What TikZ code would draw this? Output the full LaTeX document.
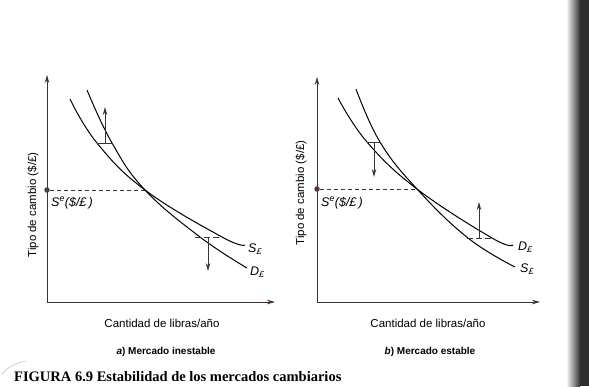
\documentclass[tikz,border=0pt]{standalone}
\usepackage{fontspec}
\setmainfont{Liberation Sans}
\newfontfamily\capfont{Liberation Serif}
\usetikzlibrary{arrows.meta}
\definecolor{axiscol}{RGB}{60,50,48}
\definecolor{dotcol}{RGB}{80,62,55}
\begin{document}
\begin{tikzpicture}[x=1pt,y=-1pt,
  axis/.style={draw=axiscol, line width=0.8pt, {Stealth[length=8pt,width=4.5pt]}-{Stealth[length=8pt,width=4.5pt]}},
  curve/.style={line width=1pt, black},
  guide/.style={dash pattern=on 4pt off 3pt, line width=0.7pt, draw=axiscol},
  bar/.style={line width=0.8pt, draw=axiscol},
  dbar/.style={line width=0.8pt, draw=axiscol, dash pattern=on 6pt off 3pt},
  move/.style={line width=1pt, draw=axiscol, -{Stealth[length=8pt,width=4.5pt]}},
  dot/.style={circle, fill=dotcol, inner sep=0pt, minimum size=5.5pt},
  lbl/.style={font=\fontsize{11.5}{13}\selectfont, inner sep=0pt},
  clbl/.style={font=\fontsize{12.5}{14}\selectfont, inner sep=0pt},
  sub/.style={font=\bfseries\fontsize{10}{12}\selectfont, inner sep=0pt},
  ]
\useasboundingbox (0,0) rectangle (589,386);
\fill[white] (0,0) rectangle (589,386);
% scan edge
\shade[left color=white, right color=black!80] (566,0) rectangle (580,386);
\fill[black!82] (580,0) rectangle (589,386);

% ---------------- left panel ----------------
\coordinate (oA) at (47,302);
\coordinate (yA) at (47,75);
\coordinate (xA) at (275,302);
\draw[axis] (yA) -- (oA) -- (xA);
\coordinate (eA) at (145,190);
\node[dot] (pA) at (47,190) {};
\draw[guide] (pA) -- (eA);
\draw[curve] plot[smooth, tension=0.7] coordinates {(70,99) (97,143) (145,190) (222,237) (245,245)};
\draw[curve] plot[smooth, tension=0.7] coordinates {(87,90) (112,143) (145,190) (200,237) (247,268)};
\node[clbl, anchor=west] (seA) at (51,203) {\itshape S\textsuperscript{e}(\$/£\,)};
\node[clbl, anchor=west] (sA) at (248,249) {\itshape S\textsubscript{£}};
\node[clbl, anchor=west] (dA) at (250,272) {\itshape D\textsubscript{£}};
\node[lbl, rotate=90] (ylA) at (33,205) {Tipo de cambio (\$/£)};
\node[lbl] (xlA) at (162,323) {Cantidad de libras/año};
\node[sub] (tA) at (166,352) {\textit{a}) Mercado inestable};
% adjustment marks
\coordinate (ua1) at (97,143); \coordinate (ua2) at (112,143);
\coordinate (ub) at (105,143); \coordinate (ut) at (105,107);
\draw[bar] (ua1) -- (ua2);
\draw[move] (ub) -- (ut);
\coordinate (la1) at (195,237); \coordinate (la2) at (221,237);
\coordinate (lb) at (208,237); \coordinate (lt) at (208,271);
\draw[dbar] (la1) -- (la2);
\draw[move] (lb) -- (lt);

% ---------------- right panel ----------------
\coordinate (oB) at (317,302);
\coordinate (yB) at (317,77);
\coordinate (xB) at (540,302);
\draw[axis] (yB) -- (oB) -- (xB);
\coordinate (eB) at (417,189);
\node[dot] (pB) at (317,189) {};
\draw[guide] (pB) -- (eB);
\draw[curve] plot[smooth, tension=0.7] coordinates {(338,98) (367,142) (417,189) (492,238) (513,245)};
\draw[curve] plot[smooth, tension=0.7] coordinates {(356,89) (380,142) (417,189) (468,238) (515,267)};
\node[clbl, anchor=west] (seB) at (321,203) {\itshape S\textsuperscript{e}(\$/£\,)};
\node[clbl, anchor=west] (dB) at (518,247) {\itshape D\textsubscript{£}};
\node[clbl, anchor=west] (sB) at (520,269) {\itshape S\textsubscript{£}};
\node[lbl, rotate=90] (ylB) at (301,193) {Tipo de cambio (\$/£)};
\node[lbl] (xlB) at (428,323) {Cantidad de libras/año};
\node[sub] (tB) at (430,352) {\textit{b}) Mercado estable};
\coordinate (ra1) at (367,142); \coordinate (ra2) at (381,142);
\coordinate (rb) at (374,142); \coordinate (rt) at (374,177);
\draw[bar] (ra1) -- (ra2);
\draw[move] (rb) -- (rt);
\coordinate (sa1) at (467,238); \coordinate (sa2) at (493,238);
\coordinate (sb) at (479,238); \coordinate (st) at (479,202);
\draw[dbar] (sa1) -- (sa2);
\draw[move] (sb) -- (st);

% ---------------- caption ----------------
\draw[gray!60, line width=0.4pt] (2,374) .. controls (8,367) and (15,363) .. (26,361);
\node[anchor=base west, inner sep=0pt, font=\capfont\bfseries\fontsize{14.5}{16}\selectfont] (cap) at (14,381) {FIGURA 6.9 Estabilidad de los mercados cambiarios};
\end{tikzpicture}
\end{document}
